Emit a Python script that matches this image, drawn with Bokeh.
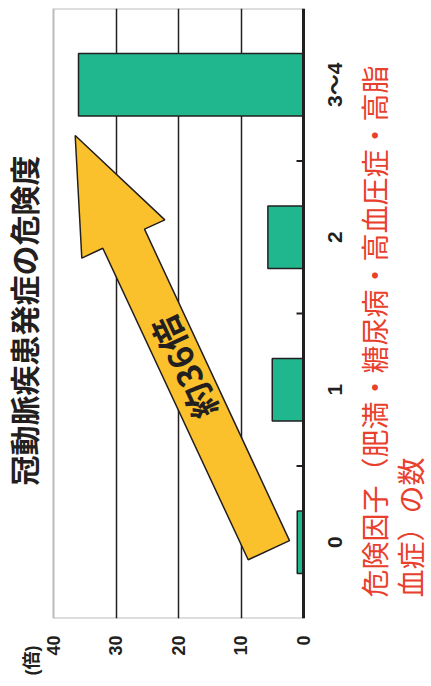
import math
from bokeh.plotting import figure
from bokeh.models import Range1d, FixedTicker, Label, BoxAnnotation
from bokeh.core.properties import value
from bokeh.embed import file_html
from bokeh.resources import INLINE

# ---- data ----
categories = ["0", "1", "2", "3〜4"]
risk_ratio = [1.0, 5.0, 5.7, 36.0]
value_ticks = [0, 10, 20, 30, 40]
title_text = "冠動脈疾患発症の危険度"
unit_text = "(倍)"
xlabel_lines = ["危険因子（肥満・糖尿病・高血圧症・高脂", "血症）の数"]
arrow_text = "約36倍"

# ---- layout (pixel geometry of the chart box) ----
W, H = 431, 686
BOX_L, BOX_R, BOX_T, BOX_B = 53, 303, 8, 618
VMAX = 40
NCAT = len(categories)
PPU_X = (BOX_R - BOX_L) / VMAX
PPU_Y = (BOX_B - BOX_T) / NCAT


def vx(px):
    return (BOX_R - px) / PPU_X


def cy(py):
    return (BOX_B - py) / PPU_Y


cat_pos = [i + 0.5 for i in range(NCAT)]
cat_bounds = [i for i in range(1, NCAT)]
DARK = "#231f20"
RED = "#e8402d"
JP = "Noto Sans CJK JP"
NUM = "Liberation Sans, Noto Sans CJK JP"

p = figure(width=W, height=H, x_range=Range1d(vx(0), vx(W)), y_range=Range1d(0, NCAT),
           x_axis_location="below", y_axis_location=None,
           output_backend="svg", toolbar_location=None,
           min_border_left=0, min_border_right=0,
           min_border_top=BOX_T, min_border_bottom=H - BOX_B)

p.outline_line_color = None
p.background_fill_color = "white"

# value axis (bottom) with the unit label "(倍)" placed left of the box
unit_pos = round(vx(31), 2)
xa = p.xaxis[0]
xa.ticker = FixedTicker(ticks=value_ticks + [unit_pos])
xa.major_label_overrides = {unit_pos: unit_text + "\u00a0\u00a0"}
xa.major_tick_in = 0
xa.major_tick_out = 0
xa.minor_tick_in = 0
xa.minor_tick_out = 0
xa.axis_line_color = None
xa.major_label_orientation = math.pi / 2
xa.major_label_standoff = 17
xa.major_label_text_font = NUM
xa.major_label_text_font_style = "bold"
xa.major_label_text_font_size = "18px"
xa.major_label_text_color = DARK

p.xgrid.ticker = FixedTicker(ticks=[10, 20, 30])
p.xgrid.grid_line_color = DARK
p.xgrid.grid_line_width = 1.5
p.ygrid.visible = False

# bars
p.hbar(y=cat_pos, right=risk_ratio, left=0, height=0.41,
       fill_color="#20b78f", line_color=DARK, line_width=1.5)

# chart box, category boundary ticks and category labels
p.add_layout(BoxAnnotation(left=0, right=VMAX, bottom=0, top=NCAT,
                           fill_color=None, line_color=DARK, line_width=2))
p.line(x=[0, 0], y=[0, NCAT], line_color=DARK, line_width=3)
p.segment(x0=[0] * len(cat_bounds), y0=cat_bounds,
          x1=[vx(BOX_R - 7)] * len(cat_bounds), y1=cat_bounds,
          line_color=DARK, line_width=2)
p.text(x=[vx(BOX_R + 31)] * NCAT, y=cat_pos, text=categories, angle=math.pi / 2,
       text_align="center", text_baseline="middle",
       text_font=value(NUM), text_font_style="bold", text_font_size="21px",
       text_color=DARK)

# arrow (annotation polygon in value / category units)
arrow_v = [8.85, 2.24, 25.44, 22.19, 36.53, 35.47, 32.11]
arrow_c = [0.385, 0.511, 2.553, 2.614, 3.167, 2.363, 2.428]
p.patch(arrow_v, arrow_c, fill_color="#fbc12c", line_color=DARK, line_width=1.5)

ang = math.atan2(415, -193)
p.add_layout(Label(x=vx(183), y=cy(367), text=arrow_text, angle=ang,
                   text_align="center", text_baseline="middle",
                   text_font=JP, text_font_style="bold", text_font_size="34px",
                   text_color=DARK))

# title (left of the box)
p.add_layout(Label(x=vx(22), y=cy(320), text=title_text, angle=math.pi / 2,
                   text_align="center", text_baseline="middle",
                   text_font=JP, text_font_style="bold", text_font_size="30px",
                   text_color=DARK))

# category axis title (right of the box, two lines)
for line, px in zip(xlabel_lines, [373, 409]):
    p.add_layout(Label(x=vx(px), y=cy(597), text=line, angle=math.pi / 2,
                       text_align="left", text_baseline="middle",
                       text_font=JP, text_font_size="28px", text_color=RED))

open("out.html", "w").write(file_html(p, INLINE))
